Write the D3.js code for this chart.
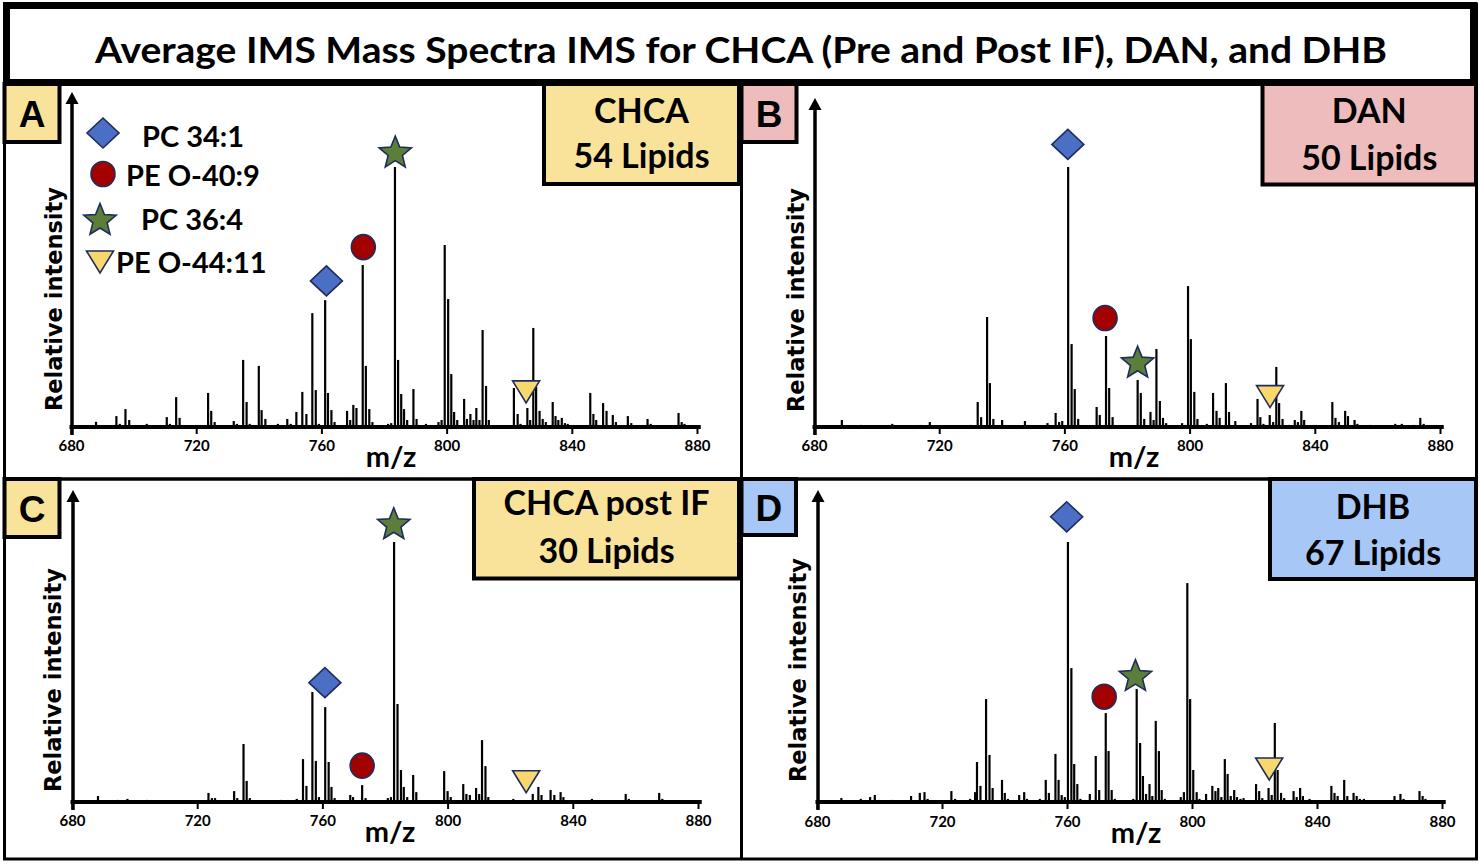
<!DOCTYPE html>
<html lang="en">
<head>
<meta charset="UTF-8">
<title>Average IMS Mass Spectra</title>
<script src="https://d3js.org/d3.v7.min.js"></script>
<style>
    html, body { margin: 0; background: #fff; }
    svg { display: block; }
    .title { font-family: Lato, sans-serif; font-weight: 700; }
    .lbl { font-family: Lato, sans-serif; font-weight: 700; }
    .letter { font-family: "Liberation Sans", Arial, sans-serif; font-weight: 700; }
    .ylab { font-family: "DejaVu Sans", Verdana, sans-serif; font-weight: 700; }
</style>
</head>
<body>
<div id="vis"></div>
<script>
// ---- data (m/z, relative intensity, tallest peak = 100) ----
var titleText = "Average IMS Mass Spectra IMS for CHCA (Pre and Post IF), DAN, and DHB";
var mzTicks = [680, 720, 760, 800, 840, 880];
var panelLetters = ["A", "B", "C", "D"];
var matrixNames = ["CHCA", "DAN", "CHCA post IF", "DHB"];
var lipidCounts = [54, 50, 30, 67];
var lipids = ["PC 34:1", "PE O-40:9", "PC 36:4", "PE O-44:11"];

var spectrumA = [
    [688.0,2],[694.5,4.2],[695.6,1.2],[697.4,6.9],[698.6,2.7],[704.2,1.2],[710.6,3.8],[711.6,1.2],
    [713.6,11.5],[714.7,3.5],[723.8,13.1],[724.8,6.2],[725.9,1.9],[732.0,2.3],[733.0,1.2],[735.0,25.8],
    [736.1,9.6],[737.1,1.2],[740.0,23.5],[740.9,6.5],[742.1,3.1],[746.1,1.2],[749.1,3.1],[750.2,1.2],
    [752.0,5.8],[753.9,13.5],[755.2,5],[757.1,43.8],[758.2,14.2],[759.2,1.2],[761.2,48.8],[762.1,13.1],
    [763.2,6.5],[764.2,1.9],[768.2,6.2],[769.2,2.7],[770.2,8.5],[771.2,7.3],[773.2,62.3],[774.2,23.5],
    [775.3,6.9],[776.3,1.9],[781.3,1.2],[782.3,1.5],[783.5,100],[784.5,25.8],[785.5,12.7],[786.4,6.9],
    [787.4,2.7],[789.4,14.6],[790.4,3.1],[793.4,1.2],[797.4,1.9],[798.4,2.7],[799.4,70],[800.5,49.2],
    [801.5,20.4],[802.4,5.8],[803.4,2.7],[805.6,10.8],[806.5,3.1],[807.6,5],[808.6,2.7],[809.5,7.3],
    [810.5,2.7],[811.5,37.3],[812.6,15.8],[813.5,2.7],[821.5,15],[822.7,5],[823.6,1.2],[825.8,7.3],
    [826.7,2.7],[827.7,38.1],[828.6,15.4],[829.7,6.2],[830.7,3.1],[831.7,1.9],[833.9,9.6],[834.8,4.2],
    [835.7,2.7],[836.8,3.5],[837.8,1.5],[838.7,1.2],[845.9,13.1],[846.9,5],[847.8,2.7],[850.0,9.2],
    [851.1,6.2],[853.1,4.6],[854.1,1.9],[857.9,4.2],[859.0,1.5],[864.2,3.1],[865.2,1.2],[874.1,5.4],
    [875.1,1.9],[876.0,1.2]
];
var spectrumB = [
    [688.9,2.7],[695,0.8],[705,1.2],[714,0.8],[717,1.9],[730,0.8],[732.3,9.6],[733.4,3.8],
    [735.3,42.3],[736.2,16.9],[737.3,3.1],[740.1,2.7],[747.4,2.3],[748.3,0.8],[754.6,1.5],[757.2,5.4],
    [758.3,1.9],[759.3,2.3],[761.2,100],[762.3,31.9],[763.3,14.6],[764.4,3.1],[770.3,7.7],[771.3,4.6],
    [773.3,35],[774.3,15],[775.4,3.8],[783.4,18.1],[784.4,13.1],[785.5,3.1],[787.5,5.8],[788.5,2.7],
    [789.4,30],[790.5,10],[791.5,3.5],[792.5,1.5],[797.6,1.5],[798.5,0.8],[799.5,54.2],[800.4,33.8],
    [801.5,13.5],[802.5,3.1],[805.5,1.2],[807.5,13.1],[808.6,6.2],[809.6,3.5],[811.6,16.9],[812.6,5.8],
    [814.6,2.3],[819.6,1.5],[821.7,10.8],[822.6,3.8],[823.6,1.2],[825.6,4.6],[826.7,1.9],[827.7,23.1],
    [828.6,9.2],[829.7,3.1],[831.7,0.8],[833.6,2.7],[834.6,1.9],[835.7,6.2],[836.6,2.7],[845.6,9.6],
    [846.6,3.5],[847.7,1.9],[849.7,6.2],[850.6,4.2],[852.7,2.7],[853.6,1.2],[857.7,0.8],[865.7,1.2],
    [867.8,1.2],[871.7,0.8],[873.7,3.5],[874.8,1.2]
];
var spectrumC = [
    [688.3,2.3],[694.6,0.8],[697.7,1.2],[703.9,0.8],[723.6,3.5],[724.7,1.5],[725.7,1.5],[731.8,4.2],
    [732.8,1.5],[734.8,22.3],[735.8,8.1],[736.8,1.5],[746.8,0.8],[751.8,1.2],[753.8,16.5],[754.9,6.2],
    [756.8,42.3],[757.9,15.8],[758.9,1.9],[760.9,36.5],[762.0,15.4],[762.9,5.8],[763.9,1.5],[768.9,2.7],
    [769.8,1.9],[772.7,6.5],[773.8,1.5],[780.9,1.5],[781.9,1.9],[782.9,100],[784.0,37.7],[785.1,12.3],
    [786.0,5.8],[787.1,1.9],[789.0,10.4],[790.0,3.8],[798.9,11.9],[800.0,4.2],[801.0,1.9],[805.0,6.9],
    [806.0,3.1],[807.1,2.7],[809.1,5.4],[810.1,3.1],[811.0,23.8],[812.1,13.8],[813.0,1.9],[821.0,1.2],
    [827.2,3.1],[829.0,5.8],[830.0,2.7],[832.9,4.6],[834.1,2.7],[836.1,3.8],[837.0,1.9],[846.1,1.2],
    [856.9,3.1],[857.9,1.2],[867.6,3.5],[868.6,1.2]
];
var spectrumD = [
    [687.8,1.5],[694,1.2],[697.0,1.9],[698.5,2.7],[700,0.8],[704,0.8],[710.1,2.3],[712.9,3.5],
    [714.4,3.8],[715.4,1.2],[723.0,4.2],[724.2,1.2],[729,1.2],[730.6,3.8],[731.2,15.4],[732.3,6.2],
    [734.1,39.6],[735.2,18.1],[736.2,5.4],[739.2,8.5],[740.1,3.5],[741.1,1.2],[744.7,2.7],[746.3,3.8],
    [747.2,1.2],[751.3,1.2],[753.2,8.5],[754.2,3.5],[756.3,18.5],[757.3,8.5],[758.3,2.7],[759.3,1.9],
    [760.3,100],[761.4,51.5],[762.3,14.6],[763.3,6.9],[764.3,1.2],[767.3,3.1],[769.2,17.7],[770.3,4.6],
    [772.4,34.2],[773.3,19.6],[774.3,4.6],[775.3,1.2],[781.2,1.2],[782.3,43.5],[783.4,22.7],[784.3,10],
    [785.3,3.1],[786.4,6.9],[787.3,2.3],[788.4,31.2],[789.4,19.6],[790.3,4.6],[791.3,1.2],[796.4,1.9],
    [797.4,3.8],[798.5,84.2],[799.4,39.6],[800.4,12.3],[801.5,3.8],[802.4,1.2],[804.5,3.1],[806.5,6.2],
    [807.5,4.2],[808.4,5.4],[809.4,1.9],[810.5,16.5],[811.4,10.8],[812.4,2.3],[813.5,4.6],[814.4,1.9],
    [815.5,1.2],[816.5,1.5],[820.5,6.9],[821.5,4.2],[822.5,1.5],[824.5,5.4],[825.5,2.7],[826.5,30.4],
    [827.4,12.3],[828.5,3.5],[829.5,1.5],[832.5,4.2],[833.5,1.9],[834.6,5.4],[835.5,2.3],[837.6,1.2],
    [844.6,6.2],[845.6,3.5],[846.6,2.3],[848.7,8.5],[849.7,2.3],[851.7,3.5],[852.7,2.3],[853.7,1.2],
    [855,1.2],[864.8,2.3],[866.7,3.1],[867.7,1.2],[872.8,4.2],[873.8,2.3],[874.7,1.2]
];

// annotation markers: which lipid, m/z, and the intensity level the symbol sits at
var markersA = [[0, 761.6, 56.2], [1, 773.4, 69.2], [2, 783.6, 105.9], [3, 825.4, 13.5]];
var markersB = [[0, 761.1, 108.7], [1, 773.0, 41.9], [2, 783.4, 25.1], [3, 825.7, 11.7]];
var markersC = [[0, 760.8, 45.9], [1, 772.7, 14.0], [2, 782.8, 107.2], [3, 825.1, 7.8]];
var markersD = [[0, 759.9, 109.7], [1, 771.9, 40.5], [2, 781.9, 48.8], [3, 824.7, 12.7]];

var spectra = [spectrumA, spectrumB, spectrumC, spectrumD];
var markerSets = [markersA, markersB, markersC, markersD];

// ---- layout ----
var W = 1480, H = 866;
var boxFills = ["#f9e39b", "#efbcbd", "#f9e39b", "#a7c7f6"];
var lipidFills = ["#4a6fc4", "#a30000", "#5b7e3b", "#f8d86c"];
var markerStroke = "#1f2d5c";

var panels = [
    { x0: 71,  x1: 697,  base: 427, top: 167, tip: 92,  letter: [4.5, 84, 59.5, 142],  info: [544, 84, 739, 184],
      infoY: [123, 168], yLab: [62, 299],  mz: [391, 467],  tickBase: 451 },
    { x0: 814, x1: 1440, base: 427, top: 167, tip: 98,  letter: [741.5, 84, 796.5, 142], info: [1262.5, 84, 1476, 184.5],
      infoY: [123, 170], yLab: [804, 300], mz: [1134, 467], tickBase: 451 },
    { x0: 72,  x1: 698,  base: 802, top: 542, tip: 490, letter: [4.5, 479, 59.5, 537], info: [474, 479, 739, 578.5],
      infoY: [515, 563], yLab: [61, 680],  mz: [390, 842],  tickBase: 826 },
    { x0: 817, x1: 1442, base: 802, top: 542, tip: 490, letter: [741.5, 479, 796, 535], info: [1270, 479, 1476, 579],
      infoY: [519, 565], yLab: [806, 670], mz: [1136, 843], tickBase: 827 }
];

var svg = d3.select('#vis').append('svg')
    .attr('width', W).attr('height', H);

svg.append('rect').attr('width', W).attr('height', H).attr('fill', '#fff');

function markerPath(shape) {
    if (shape === 0) return "M0,-15L16,0L0,15L-16,0Z";
    if (shape === 1) return "M-12,0A12,12.5 0 1,0 12,0A12,12.5 0 1,0 -12,0Z";
    if (shape === 2) {
        var pts = [];
        for (var k = 0; k < 10; k++) {
            var r = k % 2 === 0 ? 17 : 7.5;
            var a = -Math.PI / 2 + k * Math.PI / 5;
            pts.push([r * Math.cos(a), r * Math.sin(a) + 1.5]);
        }
        return "M" + pts.map(function(p){ return p[0].toFixed(2) + "," + p[1].toFixed(2); }).join("L") + "Z";
    }
    return "M-13.5,-11L13.5,-11L0,11Z";
}

// frame: outer border and dividers
svg.append('rect')
    .attr('x', 4.5).attr('y', 4).attr('width', 1472).attr('height', 855)
    .attr('fill', 'none').attr('stroke', '#000').attr('stroke-width', 3);
svg.append('line').attr('x1', 741.5).attr('x2', 741.5).attr('y1', 84).attr('y2', 859)
    .attr('stroke', '#000').attr('stroke-width', 3);
svg.append('line').attr('x1', 4.5).attr('x2', 1476).attr('y1', 479).attr('y2', 479)
    .attr('stroke', '#000').attr('stroke-width', 3.5);

// title box
svg.append('rect')
    .attr('x', 6.5).attr('y', 5.5).attr('width', 1467).attr('height', 77)
    .attr('fill', '#fff').attr('stroke', '#000').attr('stroke-width', 7);
svg.append('text')
    .attr('class', 'title')
    .attr('x', 741).attr('y', 63)
    .attr('text-anchor', 'middle')
    .attr('font-size', 37)
    .attr('textLength', 1292).attr('lengthAdjust', 'spacingAndGlyphs')
    .text(titleText);

panels.forEach(function(p, i) {
    var g = svg.append('g');

    var x = d3.scaleLinear().domain([680, 880]).range([p.x0, p.x1]);
    var y = d3.scaleLinear().domain([0, 100]).range([p.base, p.top]);

    // letter box
    g.append('rect')
        .attr('x', p.letter[0]).attr('y', p.letter[1])
        .attr('width', p.letter[2] - p.letter[0]).attr('height', p.letter[3] - p.letter[1])
        .attr('fill', boxFills[i]).attr('stroke', '#000').attr('stroke-width', 4);
    g.append('text')
        .attr('class', 'letter')
        .attr('x', (p.letter[0] + p.letter[2]) / 2)
        .attr('y', (p.letter[1] + p.letter[3]) / 2 + 13.5)
        .attr('text-anchor', 'middle').attr('font-size', 37)
        .text(panelLetters[i]);

    // matrix box
    g.append('rect')
        .attr('x', p.info[0]).attr('y', p.info[1])
        .attr('width', p.info[2] - p.info[0]).attr('height', p.info[3] - p.info[1])
        .attr('fill', boxFills[i]).attr('stroke', '#000').attr('stroke-width', 4);
    var cx = (p.info[0] + p.info[2]) / 2;
    g.append('text').attr('class', 'lbl')
        .attr('x', cx).attr('y', p.infoY[0]).attr('text-anchor', 'middle').attr('font-size', 34)
        .text(matrixNames[i]);
    g.append('text').attr('class', 'lbl')
        .attr('x', cx).attr('y', p.infoY[1]).attr('text-anchor', 'middle').attr('font-size', 34)
        .text(lipidCounts[i] + " Lipids");

    // peaks
    g.selectAll('.peak')
        .data(spectra[i])
        .enter().append('line')
        .attr('class', 'peak')
        .attr('x1', function(d){ return x(d[0]); })
        .attr('x2', function(d){ return x(d[0]); })
        .attr('y1', y(0))
        .attr('y2', function(d){ return y(d[1]); })
        .attr('stroke', '#000').attr('stroke-width', 2.2);

    // x axis: ticks + labels from d3, thick baseline drawn separately
    var xAxis = d3.axisBottom(x).tickValues(mzTicks).tickSize(6).tickSizeOuter(0).tickPadding(6.5)
        .tickFormat(d3.format('d'));
    var ax = g.append('g')
        .attr('transform', 'translate(0,' + (p.base + 1) + ')')
        .call(xAxis);
    ax.select('.domain').remove();
    ax.selectAll('.tick line').attr('stroke', '#000').attr('stroke-width', 2);
    ax.selectAll('.tick text')
        .attr('class', 'lbl').attr('font-size', 15).attr('fill', '#000')
        .attr('dy', null).attr('y', p.tickBase - p.base - 1);

    g.append('line')
        .attr('x1', x(680) - 1.5).attr('x2', x(881.2))
        .attr('y1', p.base).attr('y2', p.base)
        .attr('stroke', '#000').attr('stroke-width', 4);

    // y axis with arrow
    var ax0 = x(680) + 1;
    g.append('line')
        .attr('x1', ax0).attr('x2', ax0)
        .attr('y1', p.base + 8).attr('y2', p.tip + 9)
        .attr('stroke', '#000').attr('stroke-width', 3.5);
    g.append('path')
        .attr('d', 'M' + (ax0 - 6.5) + ',' + (p.tip + 12) + 'L' + ax0 + ',' + p.tip + 'L' + (ax0 + 6.5) + ',' + (p.tip + 12) + 'Z')
        .attr('fill', '#000');

    // axis titles
    g.append('text').attr('class', 'ylab')
        .attr('transform', 'translate(' + p.yLab[0] + ',' + p.yLab[1] + ')rotate(-90)')
        .attr('text-anchor', 'middle').attr('font-size', 22.5)
        .text('Relative intensity');
    g.append('text').attr('class', 'lbl')
        .attr('x', p.mz[0]).attr('y', p.mz[1]).attr('text-anchor', 'middle').attr('font-size', 29)
        .text('m/z');

    // lipid markers
    g.selectAll('.marker')
        .data(markerSets[i])
        .enter().append('path')
        .attr('class', 'marker')
        .attr('transform', function(d){ return 'translate(' + x(d[1]) + ',' + y(d[2]) + ')'; })
        .attr('d', function(d){ return markerPath(d[0]); })
        .attr('fill', function(d){ return lipidFills[d[0]]; })
        .attr('stroke', markerStroke).attr('stroke-width', 1.6);
});

// legend (panel A)
var legendPos = [[103, 133, 142, 147], [103, 174, 126, 186], [100, 219, 141, 230], [100, 262, 116, 273]];
var legend = svg.append('g');
lipids.forEach(function(name, k) {
    var lp = legendPos[k];
    legend.append('path')
        .attr('transform', 'translate(' + lp[0] + ',' + lp[1] + ')')
        .attr('d', markerPath(k))
        .attr('fill', lipidFills[k]).attr('stroke', markerStroke).attr('stroke-width', 1.6);
    legend.append('text').attr('class', 'lbl')
        .attr('x', lp[2]).attr('y', lp[3]).attr('font-size', 29)
        .text(name);
});
</script>
</body>
</html>
